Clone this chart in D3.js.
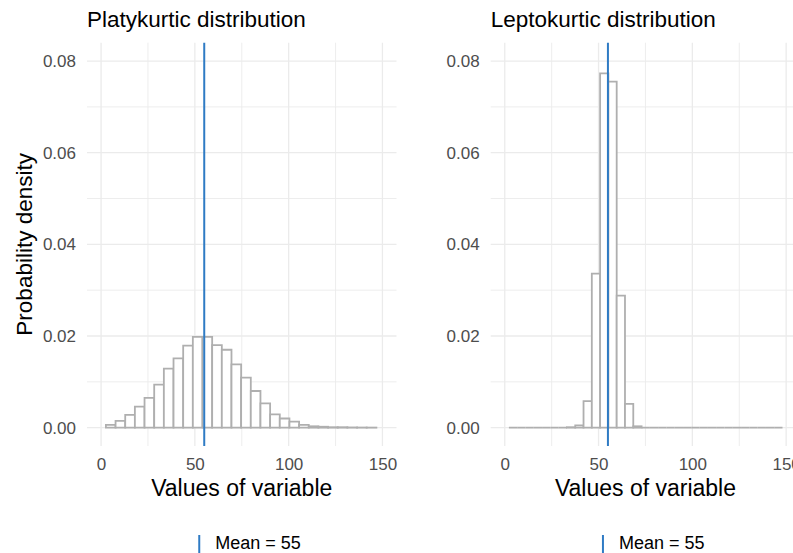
<!DOCTYPE html>
<html>
<head>
<meta charset="utf-8">
<script src="https://cdn.jsdelivr.net/npm/d3@7"></script>
<style>
  html, body { margin: 0; padding: 0; background: #fff; }
  svg { display: block; font-family: "Liberation Sans", Arial, sans-serif; }
</style>
</head>
<body>
<div id="chart"></div>
<script>
// Histogram densities for the two distributions (equal-width bins)
const platyBinStart = 2.575;
const platyBinWidth = 5.15;
const platyDensity = [
  0.0006, 0.0015, 0.0028, 0.0046, 0.0065, 0.0094, 0.0129, 0.0151, 0.0179, 0.0198,
  0.0198, 0.0180, 0.0170, 0.0138, 0.0109, 0.0080, 0.0053, 0.0029, 0.0020, 0.0013,
  0.0006, 0.0003, 0.0002, 0.0001, 0.0001, 0.00005, 0.00003, 0.00002
];

const leptoBinStart = 2.21;
const leptoBinWidth = 4.42;
const leptoDensity = [
  0, 0, 0, 0, 0, 0, 0, 0.0001, 0.0005, 0.0058,
  0.0336, 0.0773, 0.0755, 0.0288, 0.0052, 0.0003, 0, 0, 0, 0,
  0, 0, 0, 0, 0, 0, 0, 0, 0, 0,
  0, 0, 0
];

const meanValue = 55;
const panelTitles = ["Platykurtic distribution", "Leptokurtic distribution"];
const xLabel = "Values of variable";
const yLabel = "Probability density";
const legendLabel = "Mean = 55";

const xLimits = [0, 150];
const yLimits = [0, 0.08];
const xTicks = [0, 50, 100, 150];
const xMinorTicks = [25, 75, 125];
const yTicks = [0, 0.02, 0.04, 0.06, 0.08];
const yMinorTicks = [0.01, 0.03, 0.05, 0.07];

const W = 793, H = 553;
const svg = d3.select("#chart").append("svg")
  .attr("width", W).attr("height", H);

const gridColor = "#ebebeb";
const barStroke = "#afafaf";
const meanColor = "#2f7bc4";
const tickColor = "#4d4d4d";

const panels = [
  { left: 87, title: panelTitles[0], start: platyBinStart, width: platyBinWidth, dens: platyDensity, showY: true },
  { left: 490.7, title: panelTitles[1], start: leptoBinStart, width: leptoBinWidth, dens: leptoDensity, showY: false }
];
const panelW = 309.5, panelTop = 42.7, panelBottom = 446;

// 5% expansion of the limits on each side
const xPad = (xLimits[1] - xLimits[0]) * 0.05;
const yPad = (yLimits[1] - yLimits[0]) * 0.05;

panels.forEach(p => {
  const x = d3.scaleLinear()
    .domain([xLimits[0] - xPad, xLimits[1] + xPad])
    .range([p.left, p.left + panelW]);
  const y = d3.scaleLinear()
    .domain([yLimits[0] - yPad, yLimits[1] + yPad])
    .range([panelBottom, panelTop]);

  const g = svg.append("g");

  // grid
  g.selectAll(".vminor").data(xMinorTicks).join("line")
    .attr("x1", d => x(d)).attr("x2", d => x(d))
    .attr("y1", panelTop).attr("y2", panelBottom)
    .attr("stroke", gridColor).attr("stroke-width", 0.9);
  g.selectAll(".hminor").data(yMinorTicks).join("line")
    .attr("y1", d => y(d)).attr("y2", d => y(d))
    .attr("x1", p.left).attr("x2", p.left + panelW)
    .attr("stroke", gridColor).attr("stroke-width", 0.9);
  g.selectAll(".vmajor").data(xTicks).join("line")
    .attr("x1", d => x(d)).attr("x2", d => x(d))
    .attr("y1", panelTop).attr("y2", panelBottom)
    .attr("stroke", gridColor).attr("stroke-width", 1.3);
  g.selectAll(".hmajor").data(yTicks).join("line")
    .attr("y1", d => y(d)).attr("y2", d => y(d))
    .attr("x1", p.left).attr("x2", p.left + panelW)
    .attr("stroke", gridColor).attr("stroke-width", 1.3);

  // histogram bars (paths so that empty bins still show as a flat outline)
  const bins = p.dens.map((d, i) => ({
    lo: p.start + i * p.width,
    hi: p.start + (i + 1) * p.width,
    d
  }));
  g.selectAll(".bar").data(bins).join("path")
    .attr("d", b => `M${x(b.lo)},${y(0)}H${x(b.hi)}V${y(b.d)}H${x(b.lo)}Z`)
    .attr("fill", "#fff")
    .attr("stroke", barStroke)
    .attr("stroke-width", 1.8);

  // mean line
  g.append("line")
    .attr("x1", x(meanValue)).attr("x2", x(meanValue))
    .attr("y1", panelTop).attr("y2", panelBottom)
    .attr("stroke", meanColor).attr("stroke-width", 2);

  // axes (labels only)
  const xAxis = g.append("g")
    .attr("transform", `translate(0,${panelBottom})`)
    .call(d3.axisBottom(x).tickValues(xTicks).tickSize(0).tickPadding(12).tickFormat(d3.format("d")));
  xAxis.select(".domain").remove();
  xAxis.selectAll("text").attr("font-size", 17).attr("fill", tickColor)
    .attr("font-family", "Liberation Sans, Arial, sans-serif");

  const yAxis = g.append("g")
    .attr("transform", `translate(${p.left},0)`)
    .call(d3.axisLeft(y).tickValues(yTicks).tickSize(0).tickPadding(11).tickFormat(d3.format(".2f")));
  yAxis.select(".domain").remove();
  yAxis.selectAll("text").attr("font-size", 17).attr("fill", tickColor)
    .attr("font-family", "Liberation Sans, Arial, sans-serif");

  // titles
  g.append("text")
    .attr("x", p.left).attr("y", 27)
    .attr("font-size", 22.5).attr("fill", "#000")
    .text(p.title);

  const cx = p.left + panelW / 2;
  g.append("text")
    .attr("x", cx).attr("y", 496)
    .attr("text-anchor", "middle")
    .attr("font-size", 23).attr("fill", "#000")
    .text(xLabel);

  if (p.showY) {
    g.append("text")
      .attr("transform", `translate(32,${(panelTop + panelBottom) / 2}) rotate(-90)`)
      .attr("text-anchor", "middle")
      .attr("font-size", 22.5).attr("fill", "#000")
      .text(yLabel);
  }

  // legend
  g.append("line")
    .attr("x1", cx - 42.5).attr("x2", cx - 42.5)
    .attr("y1", 535).attr("y2", 553)
    .attr("stroke", meanColor).attr("stroke-width", 2);
  g.append("text")
    .attr("x", cx - 26.5).attr("y", 549)
    .attr("font-size", 18).attr("fill", "#000")
    .text(legendLabel);
});
</script>
</body>
</html>
